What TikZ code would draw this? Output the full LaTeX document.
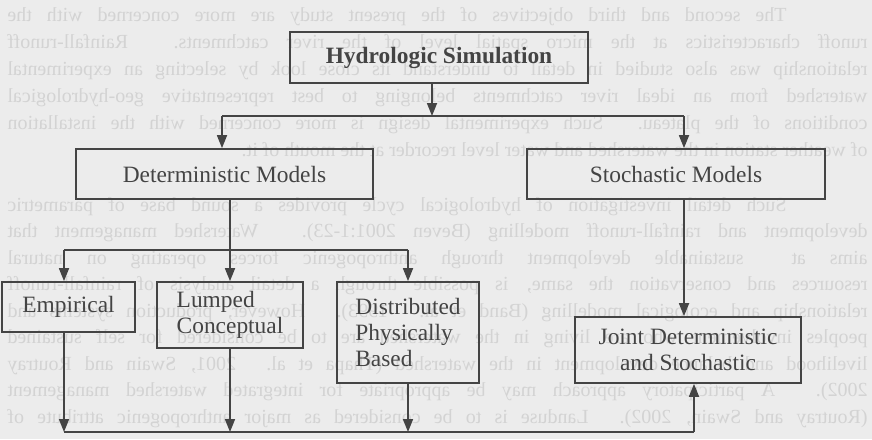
\documentclass[tikz,border=0pt]{standalone}
\usepackage{fontspec}
\setmainfont{Liberation Serif}
\usetikzlibrary{arrows.meta,positioning}

\definecolor{paper}{RGB}{236,236,236}
\definecolor{bleed}{RGB}{211,211,211}
\definecolor{ink}{RGB}{68,68,68}

% text from the back of the page, seen through it (mirrored)
\newcommand{\bleedline}[5]{%
  \begin{scope}[shift={(#3,#2)},xscale=-1]
    \node[bleedtext,transform shape,anchor=base west] (#1) at (0,0) {\makebox[#4][s]{#5}};
  \end{scope}}
\newcommand{\bleedlast}[4]{%
  \begin{scope}[shift={(#3,#2)},xscale=-1]
    \node[bleedtext,transform shape,anchor=base west] (#1) at (0,0) {#4};
  \end{scope}}

\begin{document}
\begin{tikzpicture}[x=0.5pt,y=-0.5pt,
    bleedtext/.style={inner sep=0pt,text=bleed,font=\fontsize{10}{12}\selectfont},
    box/.style={draw=ink,line width=0.85pt,text=ink,inner sep=0pt,
      font=\fontsize{11.7}{13.2}\selectfont},
    arr/.style={draw=ink,line width=0.85pt,-{Triangle[length=6.5pt,width=5pt]}},
    ln/.style={draw=ink,line width=0.85pt}]
  \fill[paper] (0,0) rectangle (872,439);
  \useasboundingbox (0,0) rectangle (872,439);

  % background show-through
  \bleedline{b1}{21}{787}{389.5pt}{The second and third objectives of the present study are more concerned with the}
  \bleedline{b2}{48}{868}{430pt}{runoff characteristics at the micro spatial level of the river catchments. Rainfall-runoff}
  \bleedline{b3}{75}{868}{430pt}{relationship was also studied in detail to understand its close look by selecting an experimental}
  \bleedline{b4}{102}{868}{430pt}{watershed from an ideal river catchments belonging to best representative geo-hydrological}
  \bleedline{b5}{129}{868}{430pt}{conditions of the plateau. Such experimental design is more concerned with the installation}
  \bleedlast{b6}{156}{868}{of weather station in the watershed and water level recorder at the mouth of it.}
  \bleedline{b7}{211}{787}{389.5pt}{Such detail investigation of hydrological cycle provides a sound base of parametric}
  \bleedline{b8}{237.5}{868}{430pt}{development and rainfall-runoff modelling (Beven 2001:1-23). Watershed management that}
  \bleedline{b9}{264}{868}{430pt}{aims at \ sustainable development through anthropogenic forces operating on natural}
  \bleedline{b10}{290.5}{868}{430pt}{resources and conservation the same, is possible through a detail analysis of rainfall-runoff}
  \bleedline{b11}{317}{868}{430pt}{relationship and ecological modelling (Band et al. 1993). However, production systems and}
  \bleedline{b12}{343.5}{868}{430pt}{peoples involvement who are living in the watershed are to be considered for self sustained}
  \bleedline{b13}{370}{868}{430pt}{livelihood and balance development in the watershed (Thapa et al. 2001, Swain and Routray}
  \bleedline{b14}{396.5}{868}{430pt}{2002). A participatory approach may be appropriate for integrated watershed management}
  \bleedline{b15}{423}{868}{430pt}{(Routray and Swain, 2002). Landuse is to be considered as major anthropogenic attribute of}

  % boxes
  \node[box,minimum width=149pt,minimum height=25.5pt,font=\fontsize{11.7}{13.2}\selectfont\bfseries]
    (HS) at (439,57.5) {Hydrologic Simulation};
  \node[box,minimum width=148.5pt,minimum height=25pt] (DM) at (224.5,174) {Deterministic Models};
  \node[box,minimum width=149pt,minimum height=25pt] (SM) at (676,174) {Stochastic Models};
  \node[box,minimum width=66.5pt,minimum height=25pt] (Emp) at (68.5,307) {Empirical};
  \node[box,minimum width=73pt,minimum height=33pt,align=left] (Lum) at (230,315) {Lumped\\Conceptual};
  \node[box,minimum width=71pt,minimum height=50.5pt,align=left] (Dist) at (408,332.5) {Distributed\\Physically\\Based};
  \node[box,minimum width=113pt,minimum height=33pt,align=center] (JDS) at (688,350) {Joint Deterministic\\and Stochastic};

  % junctions
  \coordinate (jTop) at (432,116);
  \coordinate (jL) at (222,116);
  \coordinate (jR) at (684,116);
  \coordinate (mL) at (64,250);
  \coordinate (mR) at (408,250);
  \coordinate (bL) at (64,432);
  \coordinate (bR) at (694,432);

  % connectors
  \draw[arr] (jTop |- HS.south) -- (jTop);
  \draw[ln] (jL) -- (jR);
  \draw[arr] (jL) -- (jL |- DM.north);
  \draw[arr] (jR) -- (jR |- SM.north);
  \draw[arr] (Lum.north |- DM.south) -- (Lum.north);
  \draw[ln] (mL) -- (mR);
  \draw[arr] (mL) -- (mL |- Emp.north);
  \draw[arr] (mR) -- (Dist.north);
  \draw[arr] (jR |- SM.south) -- (jR |- JDS.north);
  \draw[arr] (bL |- Emp.south) -- (bL);
  \draw[arr] (Lum.south) -- (Lum.south |- bL);
  \draw[arr] (Dist.south) -- (Dist.south |- bL);
  \draw[ln] (bL) -- (bR);
  \draw[arr] (bR) -- (bR |- JDS.south);
\end{tikzpicture}
\end{document}
